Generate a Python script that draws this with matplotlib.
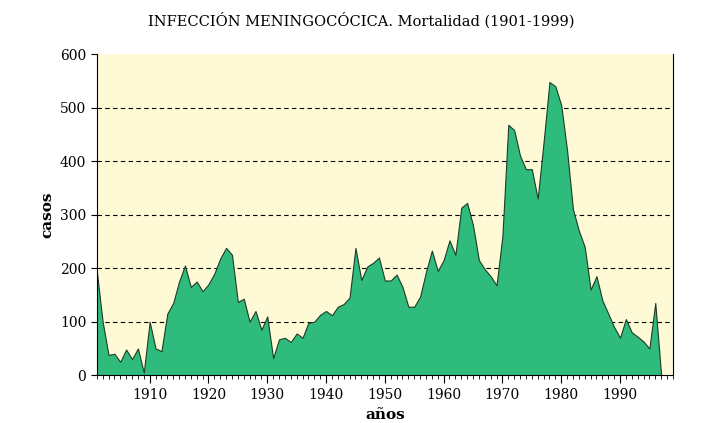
import matplotlib
matplotlib.use("Agg")
import matplotlib.pyplot as plt
import numpy as np

plt.rcParams['font.family'] = ['DejaVu Serif']

years = list(range(1901, 1998))
casos = [195, 100, 38, 40, 25, 48, 30, 50, 5, 100,
         50, 45, 115, 135, 175, 205, 165, 175, 157, 170,
         190, 218, 238, 225, 137, 143, 100, 120, 85, 110,
         32, 67, 70, 62, 78, 70, 98, 100, 113, 120,
         112, 128, 133, 145, 238, 178, 203, 210, 220, 177,
         177, 188, 165, 128, 128, 147, 193, 233, 195, 215,
         252, 225, 313, 322, 280, 215, 198, 185, 168, 260,
         468, 458, 410, 385, 385, 330, 435, 548, 540, 505,
         420, 310, 270, 240, 160, 185, 140, 115, 90, 70,
         105, 80, 72, 63, 50, 135, 0]

fig = plt.figure(figsize=(7.22, 4.23), dpi=100)
ax = fig.add_axes([0.134, 0.113, 0.798, 0.759])
ax.set_facecolor('#fffad6')
ax.fill_between(years, casos, 0, color='#2fbb7b', edgecolor='#1e3a2a', linewidth=0.8, zorder=2)
for v in range(100, 600, 100):
    ax.axhline(v, color='black', ls=(0, (4, 3)), lw=0.8, zorder=1)

ax.set_xlim(1901, 1999)
ax.set_ylim(0, 600)
ax.set_xticks(range(1910, 1991, 10))
ax.set_xticks(range(1901, 2000), minor=True)
ax.set_yticks(range(0, 601, 100))
ax.tick_params(axis='x', which='major', length=6, direction='out', labelsize=10)
ax.tick_params(axis='x', which='minor', length=3, direction='out')
ax.tick_params(axis='y', length=4, labelsize=10)
for s in ['top']:
    ax.spines[s].set_visible(False)
ax.set_xlabel('años', fontsize=11, fontweight='bold')
ax.set_ylabel('casos', fontsize=11, fontweight='bold')
fig.suptitle('INFECCIÓN MENINGOCÓCICA. Mortalidad (1901-1999)', x=0.5, y=0.97, fontsize=10.5)

fig.savefig('out.png', dpi=100)
